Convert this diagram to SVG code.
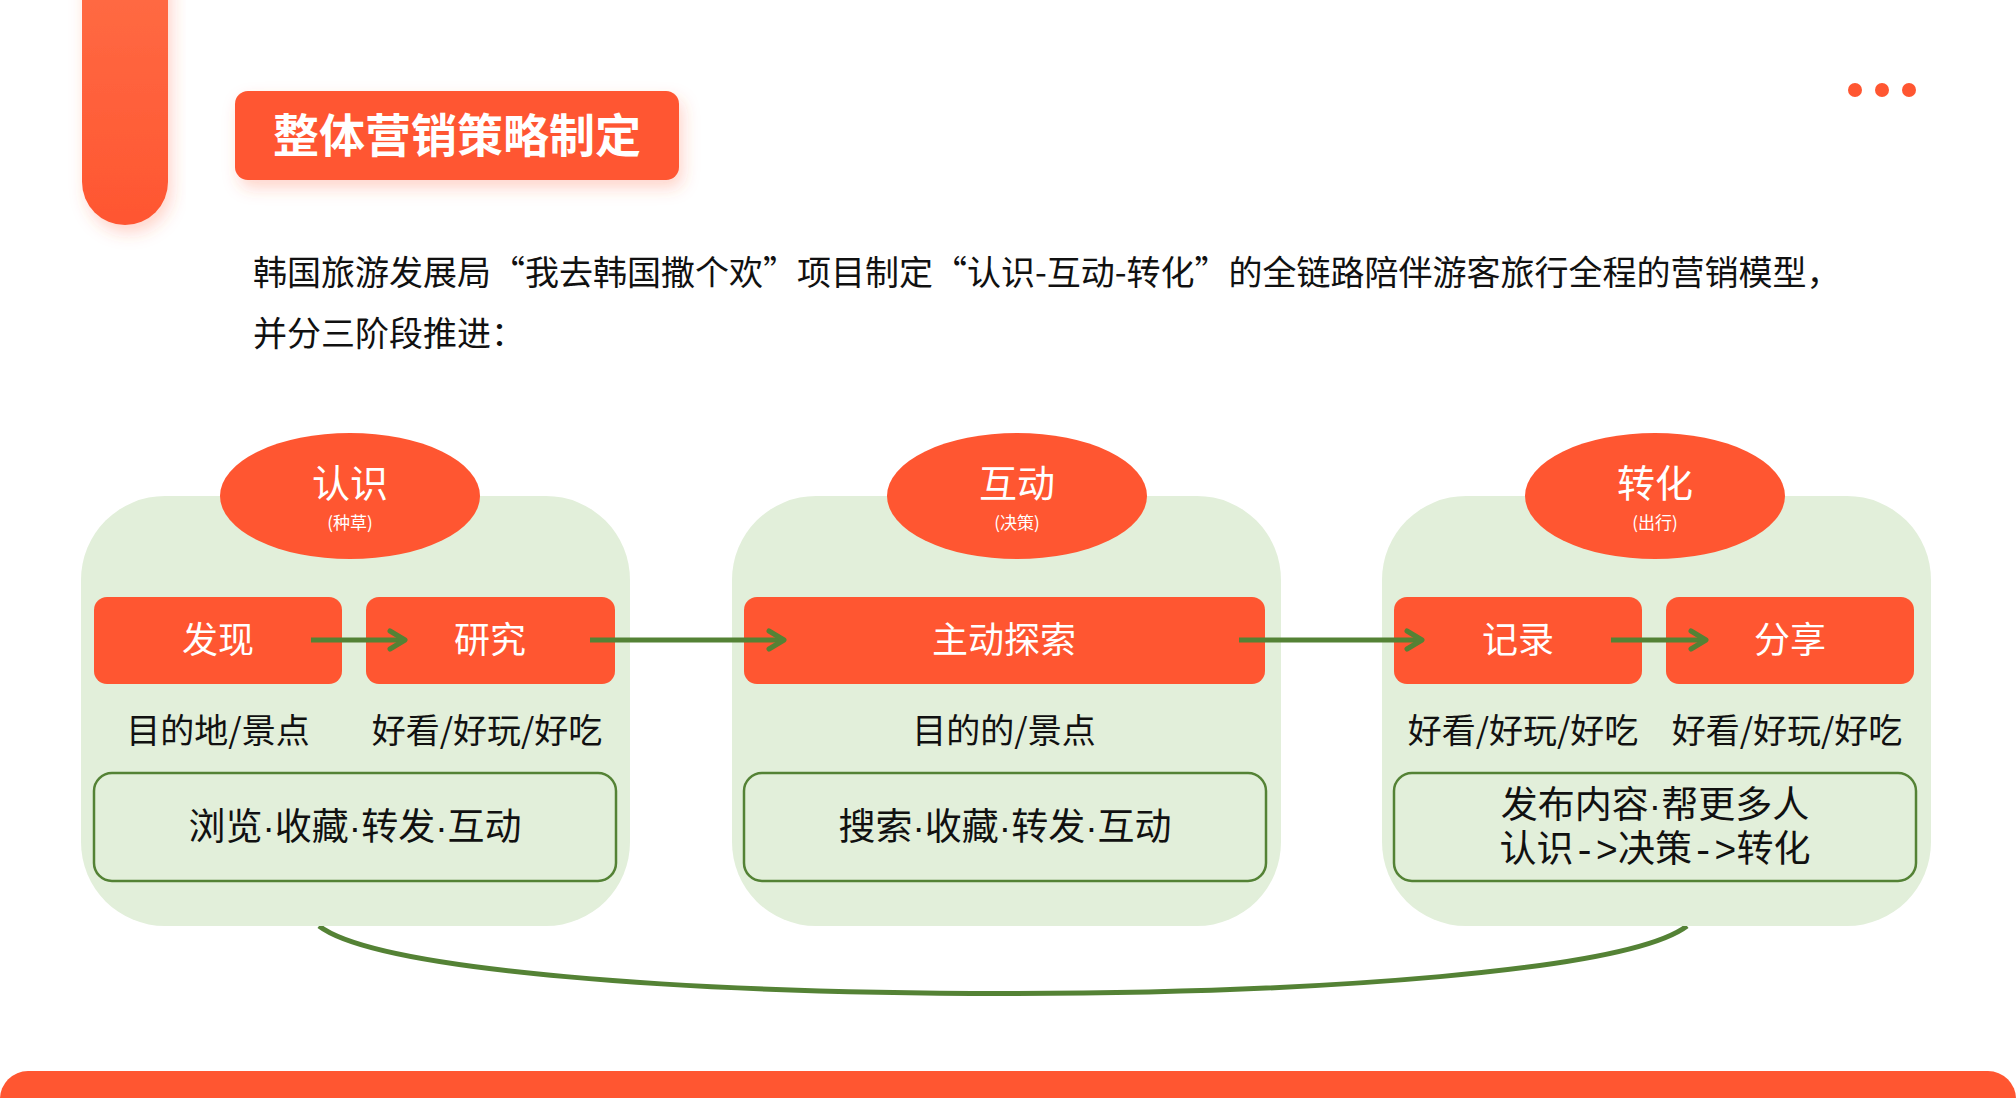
<svg xmlns="http://www.w3.org/2000/svg" width="2016" height="1098" viewBox="0 0 2016 1098">
<style>
text{font-family:"Noto Sans CJK SC","Liberation Sans",sans-serif;}
.orange{fill:#FF5631;}
.panel{fill:#E2EFDA;}
.obox{fill:#FF5631;}
.otext{fill:#FFFFFF;font-size:36px;text-anchor:middle;}
.etitle{fill:#FFFFFF;font-size:38px;text-anchor:middle;}
.esub{fill:#FFFFFF;font-size:17px;text-anchor:middle;}
.label{fill:#111111;font-size:34px;text-anchor:middle;}
.gbox{fill:#E2EFDA;stroke:#548235;stroke-width:2.5;}
.gtext{fill:#111111;font-size:37px;text-anchor:middle;}
.dot{font-family:"Liberation Sans",sans-serif;}
.mono{font-family:"Liberation Mono",monospace;}
.conn{fill:none;stroke:#548235;stroke-width:5;}
.para{fill:#111111;font-size:34px;}
</style>
<defs>
<linearGradient id="barGrad" x1="0" y1="0" x2="0" y2="1">
<stop offset="0" stop-color="#FF6E47"/>
<stop offset="1" stop-color="#FF5631"/>
</linearGradient>
<filter id="shadow" x="-20%" y="-30%" width="140%" height="170%">
<feDropShadow dx="4" dy="8" stdDeviation="8" flood-color="#FF5631" flood-opacity="0.25"/>
</filter>
<marker id="arrow" markerUnits="userSpaceOnUse" viewBox="0 0 24 24" refX="21" refY="12" markerWidth="24" markerHeight="24" orient="auto">
<path d="M6,3 L21,12 L6,21" fill="none" stroke="#548235" stroke-width="5" stroke-linecap="round" stroke-linejoin="round"/>
</marker>
</defs>
<rect width="2016" height="1098" fill="#FFFFFF"/>
<g id="header">
<rect x="82" y="-60" width="86" height="285" rx="43" fill="url(#barGrad)" filter="url(#shadow)"/>
<rect x="235" y="91" width="444" height="89" rx="13" class="orange" filter="url(#shadow)"/>
<text x="457" y="152" fill="#FFFFFF" font-size="46" font-weight="bold" text-anchor="middle">整体营销策略制定</text>
<circle cx="1855" cy="90" r="7" class="orange"/>
<circle cx="1882" cy="90" r="7" class="orange"/>
<circle cx="1909" cy="90" r="7" class="orange"/>
<text x="253" y="285" class="para">韩国旅游发展局“我去韩国撒个欢”项目制定“认识-互动-转化”的全链路陪伴游客旅行全程的营销模型，</text>
<text x="253" y="346" class="para">并分三阶段推进：</text>
</g>
<g id="connectors">
<path class="conn" d="M319,926 C437,1016 1569,1016 1687,926"/>
</g>
<g id="stage1">
<rect x="81" y="496" width="549" height="430" rx="84" class="panel"/>
<ellipse cx="350" cy="496" rx="130" ry="63" class="orange"/>
<text x="350" y="497" class="etitle">认识</text>
<text x="350" y="529" class="esub">(种草)</text>
<rect x="94" y="597" width="248" height="87" rx="13" class="obox"/>
<text x="218" y="653" class="otext">发现</text>
<rect x="366" y="597" width="249" height="87" rx="13" class="obox"/>
<text x="490" y="653" class="otext">研究</text>
<text x="218" y="743" class="label">目的地/景点</text>
<text x="487" y="743" class="label">好看/好玩/好吃</text>
<rect x="94" y="773" width="522" height="108" rx="18" class="gbox"/>
<text x="355" y="840" class="gtext">浏览<tspan class="dot">·</tspan>收藏<tspan class="dot">·</tspan>转发<tspan class="dot">·</tspan>互动</text>
</g>
<g id="stage2">
<rect x="732" y="496" width="549" height="430" rx="84" class="panel"/>
<ellipse cx="1017" cy="496" rx="130" ry="63" class="orange"/>
<text x="1017" y="497" class="etitle">互动</text>
<text x="1017" y="529" class="esub">(决策)</text>
<rect x="744" y="597" width="521" height="87" rx="13" class="obox"/>
<text x="1004" y="653" class="otext">主动探索</text>
<text x="1004" y="743" class="label">目的的/景点</text>
<rect x="744" y="773" width="522" height="108" rx="18" class="gbox"/>
<text x="1005" y="840" class="gtext">搜索<tspan class="dot">·</tspan>收藏<tspan class="dot">·</tspan>转发<tspan class="dot">·</tspan>互动</text>
</g>
<g id="stage3">
<rect x="1382" y="496" width="549" height="430" rx="84" class="panel"/>
<ellipse cx="1655" cy="496" rx="130" ry="63" class="orange"/>
<text x="1655" y="497" class="etitle">转化</text>
<text x="1655" y="529" class="esub">(出行)</text>
<rect x="1394" y="597" width="248" height="87" rx="13" class="obox"/>
<text x="1518" y="653" class="otext">记录</text>
<rect x="1666" y="597" width="248" height="87" rx="13" class="obox"/>
<text x="1790" y="653" class="otext">分享</text>
<text x="1523" y="743" class="label">好看/好玩/好吃</text>
<text x="1787" y="743" class="label">好看/好玩/好吃</text>
<rect x="1394" y="773" width="522" height="108" rx="18" class="gbox"/>
<text x="1655" y="818" class="gtext">发布内容<tspan class="dot">·</tspan>帮更多人</text>
<text x="1655" y="862" class="gtext">认识<tspan class="mono">-&gt;</tspan>决策<tspan class="mono">-&gt;</tspan>转化</text>
</g>
<g id="arrows">
<line class="conn" x1="311" y1="640" x2="405" y2="640" marker-end="url(#arrow)"/>
<line class="conn" x1="590" y1="640" x2="784" y2="640" marker-end="url(#arrow)"/>
<line class="conn" x1="1239" y1="640" x2="1422" y2="640" marker-end="url(#arrow)"/>
<line class="conn" x1="1611" y1="640" x2="1706" y2="640" marker-end="url(#arrow)"/>
</g>
<rect id="footer" x="0" y="1071" width="2016" height="80" rx="28" class="orange"/>
</svg>
